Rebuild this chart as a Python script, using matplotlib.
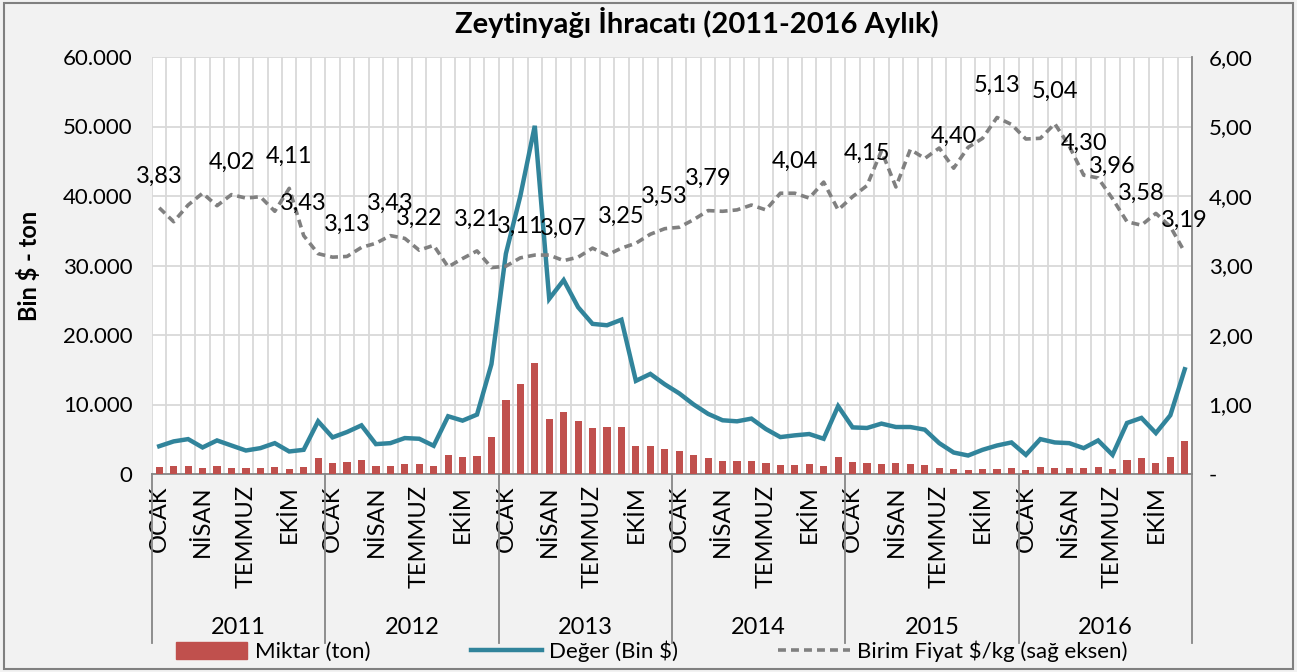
import numpy as np
import matplotlib

matplotlib.use('Agg')
import matplotlib.pyplot as plt
import matplotlib.transforms as mtransforms
from matplotlib.patches import Rectangle
from matplotlib.lines import Line2D

plt.rcParams['font.family'] = ['Lato', 'DejaVu Sans']

years = ['2011', '2012', '2013', '2014', '2015', '2016']
months = ['OCAK', '', '', 'NİSAN', '', '', 'TEMMUZ', '', '', 'EKİM', '', '']

# Miktar (ton)
miktar = [970, 1210, 1210, 920, 1160, 920, 820, 920, 1060, 770, 970, 2320,
          1590, 1790, 2080, 1210, 1210, 1400, 1500, 1210, 2750, 2460, 2560, 5310,
          10700, 12900, 15900, 7970, 8990, 7680, 6620, 6760, 6760, 3960, 4100, 3620,
          3240, 2700, 2270, 1930, 1930, 1930, 1640, 1260, 1300, 1400, 1160, 2510,
          1690, 1550, 1500, 1590, 1400, 1350, 920, 680, 530, 680, 770, 870,
          530, 970, 820, 920, 820, 1060, 720, 1980, 2270, 1550, 2420, 4690]

# Değer (Bin $)
deger = [4000, 4690, 5020, 3820, 4830, 4100, 3380, 3720, 4440, 3240, 3480, 7580,
         5270, 6040, 7000, 4300, 4440, 5170, 5070, 4060, 8310, 7680, 8550, 15800,
         31700, 40000, 50100, 25200, 27900, 24000, 21600, 21400, 22200, 13400, 14400, 12900,
         11600, 10000, 8650, 7730, 7580, 7970, 6470, 5310, 5560, 5750, 5070, 9760,
         6710, 6620, 7250, 6760, 6760, 6380, 4440, 3090, 2660, 3480, 4100, 4540,
         2750, 5020, 4540, 4440, 3720, 4830, 2750, 7340, 8070, 5890, 8450, 15070]

# Birim Fiyat $/kg
fiyat = [3.83, 3.63, 3.87, 4.04, 3.86, 4.02, 3.97, 3.99, 3.78, 4.11, 3.43, 3.17,
         3.12, 3.13, 3.26, 3.32, 3.43, 3.39, 3.22, 3.29, 2.98, 3.10, 3.21, 2.97,
         2.99, 3.11, 3.15, 3.15, 3.07, 3.12, 3.25, 3.15, 3.25, 3.32, 3.45, 3.53,
         3.55, 3.66, 3.79, 3.78, 3.80, 3.87, 3.80, 4.04, 4.04, 3.97, 4.20, 3.80,
         3.99, 4.15, 4.65, 4.13, 4.67, 4.54, 4.69, 4.40, 4.70, 4.83, 5.13, 5.03,
         4.82, 4.83, 5.04, 4.72, 4.30, 4.26, 3.96, 3.63, 3.58, 3.75, 3.56, 3.19]

# noktalar etiketli
etiketli = [0, 5, 9, 10, 13, 16, 18, 22, 25, 28, 32, 35, 38, 44, 49, 55, 58, 62, 64, 66, 68, 71]

n = len(miktar)
x = np.arange(n)

fig = plt.figure(figsize=(12.97, 6.72), dpi=100)
fig.patch.set_facecolor('#f2f2f2')
fig.patches.append(Rectangle((0.003, 0.004), 0.994, 0.992, transform=fig.transFigure,
                             fill=False, edgecolor='#808080', linewidth=1.5))

ax = fig.add_axes([152 / 1297, 1 - 474 / 672, 1040 / 1297, 417 / 672])
ax.set_facecolor('white')

ax.bar(x, miktar, width=0.5, color='#C0504D', zorder=3)
ax.plot(x, deger, color='#31849B', linewidth=3.2, zorder=4, solid_joinstyle='miter')

ax.set_xlim(-0.5, n - 0.5)
ax.set_ylim(0, 60000)
ax.set_yticks(np.arange(0, 60001, 10000))
ax.set_yticklabels(['0'] + [f'{v:,}'.replace(',', '.') for v in range(10000, 60001, 10000)])
ax.set_xticks(np.arange(-0.5, n, 1), minor=True)
ax.grid(True, which='minor', axis='x', color='#d9d9d9', linewidth=1.3, zorder=0)
ax.grid(True, which='major', axis='y', color='#d9d9d9', linewidth=1.3, zorder=0)
ax.tick_params(axis='x', which='minor', length=0)

ax.set_xticks(x)
ax.set_xticklabels(months * len(years), rotation=90, fontsize=17)
ax.tick_params(axis='x', which='major', length=0, pad=8)
ax.tick_params(axis='y', length=0, pad=14, labelsize=16)
ax.set_ylabel('Bin $ - ton', fontsize=17, fontweight='bold', labelpad=16)

for s in ['top', 'left', 'right']:
    ax.spines[s].set_visible(False)
ax.spines['bottom'].set_color('#868686')
ax.spines['bottom'].set_linewidth(1.3)

ax2 = ax.twinx()
ax2.plot(x, fiyat, color='#808080', linewidth=2.6, linestyle=(0, (2.2, 1.4)), zorder=5)
ax2.set_ylim(0, 6)
ax2.set_yticks(np.arange(0, 6.01, 1))
ax2.set_yticklabels(['-'] + [f'{v:.2f}'.replace('.', ',') for v in range(1, 7)])
ax2.tick_params(axis='y', length=0, pad=12, labelsize=16)
for s in ['top', 'left', 'right', 'bottom']:
    ax2.spines[s].set_visible(False)
ax2.spines['right'].set_visible(True)
ax2.spines['right'].set_color('#868686')
ax2.spines['right'].set_linewidth(1.3)

for i in etiketli:
    ax2.annotate(f'{fiyat[i]:.2f}'.replace('.', ','), (x[i], fiyat[i]),
                 xytext=(0, 23), textcoords='offset points',
                 ha='center', va='center', fontsize=17, zorder=6)

# yıl ayırıcıları ve etiketleri
trans = mtransforms.blended_transform_factory(ax.transData, ax.transAxes)
for k in range(len(years) + 1):
    ax.add_line(Line2D([k * 12 - 0.5, k * 12 - 0.5], [0, -0.405], transform=trans,
                       color='#868686', linewidth=1.3, clip_on=False))
for k, yil in enumerate(years):
    ax.text(k * 12 + 5.5, -0.367, yil, transform=trans, ha='center', va='center', fontsize=17)

fig.text(697 / 1297, 1 - 22 / 672, 'Zeytinyağı İhracatı (2011-2016 Aylık)', ha='center', va='center',
         fontsize=21, fontweight='bold')

handles = [Rectangle((0, 0), 1, 1, color='#C0504D'),
           Line2D([], [], color='#31849B', linewidth=3.2),
           Line2D([], [], color='#808080', linewidth=2.6, linestyle=(0, (2.2, 1.4)))]
fig.legend(handles, ['Miktar (ton)', 'Değer (Bin $)', 'Birim Fiyat $/kg (sağ eksen)'],
           loc='center', bbox_to_anchor=(652 / 1297, 1 - 651 / 672), ncol=3, frameon=False,
           fontsize=16, handlelength=3.2, handleheight=0.8, handletextpad=0.35, columnspacing=4.5)

fig.savefig('out.png', dpi=100, facecolor=fig.get_facecolor())
